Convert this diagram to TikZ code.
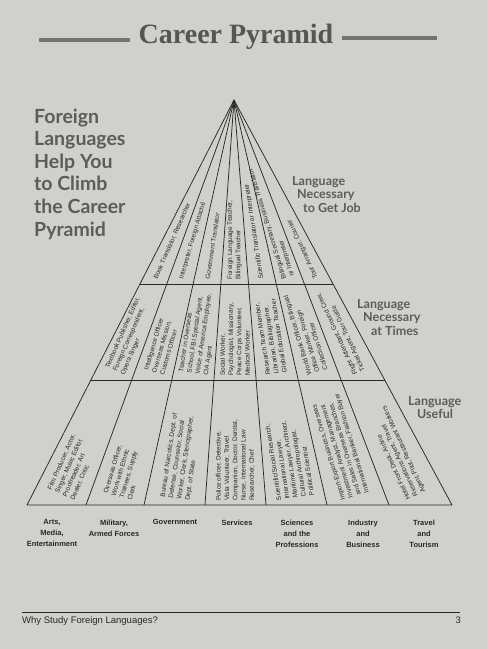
\documentclass[tikz,border=0pt]{standalone}
\usepackage{fontspec}
\setmainfont{Liberation Sans}
\newfontfamily\titlefont{Liberation Serif}
\newfontfamily\headfont{Lato}
\usetikzlibrary{calc}
\definecolor{paper}{RGB}{208,208,205}
\definecolor{ink}{RGB}{40,40,40}
\definecolor{headgray}{RGB}{92,92,92}
\definecolor{rulegray}{RGB}{115,115,113}
\begin{document}
\begin{tikzpicture}[x=1pt,y=-1pt,
  job/.style={font=\fontsize{6.5}{8.3}\selectfont, text=ink, align=left, inner sep=0pt, anchor=west},
  sector/.style={font=\bfseries\fontsize{7.5}{11}\selectfont, text=ink, align=center, inner sep=0pt, anchor=north},
  need/.style={font=\headfont\bfseries\fontsize{12.5}{13.6}\selectfont, text=headgray, align=left, inner sep=0pt, anchor=north west},
  edge/.style={draw=ink, line width=0.75pt, line join=round},
  bar/.style={draw=rulegray, line width=4.5pt}
]
\fill[paper] (0,0) rectangle (487,649);
\useasboundingbox (0,0) rectangle (487,649);

% title
\node[font=\titlefont\bfseries\fontsize{28}{30}\selectfont, text=headgray!92!black, anchor=base, inner sep=0pt] (title) at (236,43) {Career Pyramid};
\coordinate (r1a) at (39,40); \coordinate (r1b) at (130,40);
\coordinate (r2a) at (342,38); \coordinate (r2b) at (437,38);
\draw[bar] (r1a) -- (r1b);
\draw[bar] (r2a) -- (r2b);

% slogan
\node[font=\headfont\bfseries\fontsize{19.5}{22.6}\selectfont, text=headgray, align=left, anchor=north west, inner sep=0pt] (slogan) at (34,108.5)
  {Foreign\\Languages\\Help You\\to Climb\\the Career\\Pyramid};

% side headings
\node[need] (need1) at (292,176) {Language\\\hspace*{5pt}Necessary\\\hspace*{11pt}to Get Job};
\node[need] (need2) at (357,299) {Language\\\hspace*{6pt}Necessary\\\hspace*{14pt}at Times};
\node[need] (need3) at (408,396) {Language\\\hspace*{9pt}Useful};

% pyramid geometry
\coordinate (A) at (234,100);
\foreach \i/\x in {0/27,1/86,2/144,3/205,4/266,5/327,6/389,7/452}
  \coordinate (b\i) at (\x,505);
\foreach \i/\x in {1/56.5,2/115,3/174.5,4/235.5,5/296.5,6/358,7/420.5}
  \coordinate (m\i) at (\x,505);
\draw[edge] (b0) -- (A) -- (b7) -- cycle;
\foreach \i in {1,...,6} \draw[edge] (A) -- (b\i);
\draw[edge] ($(A)!0.4543!(b0)$) -- ($(A)!0.4543!(b7)$);
\draw[edge] ($(A)!0.6914!(b0)$) -- ($(A)!0.6914!(b7)$);

% top tier: language necessary to get job
\node[job, rotate=66.3]  (t1) at ($(A)!0.442!(m1)$) {Book Translator, Researcher};
\node[job, rotate=73.6]  (t2) at ($(A)!0.442!(m2)$) {Interpreter, Foreign Attaché};
\node[job, rotate=81.6]  (t3) at ($(A)!0.443!(m3)$) {Government Translator};
\node[job, rotate=90.2]  (t4) at ($(A)!0.444!(m4)$) {Foreign Language Teacher,\\Bilingual Teacher};
\node[job, rotate=98.8]  (t5) at ($(A)!0.443!(m5)$) {Scientific Translator or Interpreter};
\node[job, rotate=107]   (t6) at ($(A)!0.439!(m6)$) {Bilingual Secretary, Business Translator\\or Interpreter};
\node[job, rotate=114.7] (t7) at ($(A)!0.441!(m7)$) {Tour Arranger, Courier};

% middle tier: language necessary at times
\node[job, rotate=66.3]  (u1) at ($(A)!0.670!(m1)$) {Textbook Publisher, Editor,\\Foreign Correspondent,\\Opera Singer};
\node[job, rotate=73.6]  (u2) at ($(A)!0.673!(m2)$) {Intelligence Officer\\Overseas Mission,\\Customs Officer};
\node[job, rotate=81.6]  (u3) at ($(A)!0.676!(m3)$) {Teacher in Overseas\\School, FBI Special Agent,\\Voice of America Employee,\\CIA Agent};
\node[job, rotate=90.2]  (u4) at ($(A)!0.681!(m4)$) {Social Worker,\\Psychologist, Missionary,\\Peace Corps Volunteer,\\Medical Worker};
\node[job, rotate=98.8]  (u5) at ($(A)!0.677!(m5)$) {Research Team Member,\\Librarian, Bibliographer,\\Global Education Teacher};
\node[job, rotate=107]   (u6) at ($(A)!0.673!(m6)$) {World Bank Officer, Bilingual\\Office Worker, Foreign\\Collection Officer};
\node[job, rotate=114.7] (u7) at ($(A)!0.674!(m7)$) {Flight Attendant, Ground Crew,\\Ticket Agent, Tour Guide};

% bottom tier: language useful
\node[job, rotate=66.3]  (v1) at ($(A)!0.975!(m1)$) {Film Producer, Actor,\\Singer, Music Editor,\\Proofreader, Art\\Dealer, Critic};
\node[job, rotate=73.6]  (v2) at ($(A)!0.980!(m2)$) {Overseas Officer,\\Work with Ethnic\\Trainees, Supply\\Clerk};
\node[job, rotate=81.6]  (v3) at ($(A)!0.985!(m3)$) {Bureau of Narcotics, Dept. of\\Defense, Counselor, Social\\Worker, Clerk, Stenographer,\\Dept. of State};
\node[job, rotate=90.2]  (v4) at ($(A)!0.990!(m4)$) {Police officer, Detective,\\Vista Volunteer, Travel\\Companion, Doctor, Dentist,\\Nurse, International Law\\Researcher, Chef};
\node[job, rotate=98.8]  (v5) at ($(A)!0.983!(m5)$) {Scientific/Social Research,\\International Lawyer,\\Maritime Lawyer, Architect,\\Cultural Anthropologist,\\Political Scientist};
\node[job, rotate=107]   (v6) at ($(A)!0.979!(m6)$) {Import-Export Business, Overseas\\Investment Analyst, Management\\and Sales in Overseas Branches,\\International Banker, Fashion Buyer};
\node[job, rotate=114.7] (v7) at ($(A)!0.978!(m7)$) {Hotel Front Desk, Airline\\Reservations Agent, Travel\\Agent, Pilot, Restaurant Workers};

% sector labels
\node[sector] (s1) at (52,519.5)  {Arts,\\Media,\\Entertainment};
\node[sector] (s2) at (114,519.5) {Military,\\Armed Forces};
\node[sector] (s3) at (175,519.5) {Government};
\node[sector] (s4) at (237,519.5) {Services};
\node[sector] (s5) at (297,519.5) {Sciences\\and the\\Professions};
\node[sector] (s6) at (363,519.5) {Industry\\and\\Business};
\node[sector] (s7) at (424,519.5) {Travel\\and\\Tourism};

% footer
\coordinate (f1) at (22,612); \coordinate (f2) at (460,612);
\draw[ink, line width=1pt] (f1) -- (f2);
\node[font=\fontsize{9.5}{11}\selectfont, text=ink, anchor=base west, inner sep=0pt] (foot) at (22,623) {Why Study Foreign Languages?};
\node[font=\fontsize{9.5}{11}\selectfont, text=ink, anchor=base east, inner sep=0pt] (page) at (461,623) {3};
\end{tikzpicture}
\end{document}
